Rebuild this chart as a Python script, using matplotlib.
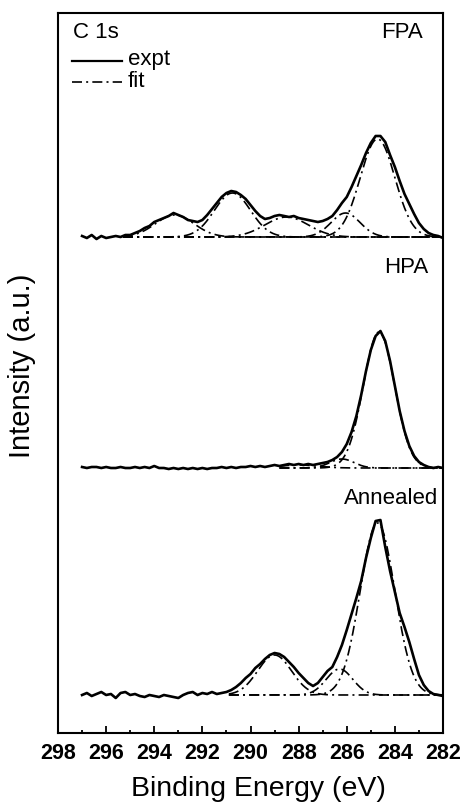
import numpy as np
import matplotlib
matplotlib.use("Agg")
import matplotlib.pyplot as plt
from matplotlib.lines import Line2D

plt.rcParams['font.family'] = ['Liberation Sans', 'DejaVu Sans']

# ---------------- data ----------------
energy = np.linspace(297.0, 282.0, 76)   # eV, 0.2 eV steps

fpa_expt = [1, -1, 2, -2, 1, -1, 0, 1, 0, 2,
            2, 4, 6, 9, 11, 15, 17, 19, 21, 24,
            22, 20, 17, 16, 15, 17, 22, 28, 34, 40,
            44, 46, 45, 42, 38, 32, 26, 21, 18, 19,
            21, 22, 21, 20, 21, 19, 18, 17, 16, 15,
            16, 18, 21, 27, 34, 40, 50, 61, 72, 84,
            94, 101, 101, 95, 82, 70, 56, 43, 33, 23,
            14, 8, 4, 2, 1, -1]

hpa_expt = [1, 0, 1, 1, 0, 1, 0, 0, 1, 0,
            0, 1, 0, 1, 0, 2, 0, 0, -1, 0,
            -1, 0, -1, 0, -1, 0, -1, 0, 0, 1,
            0, 1, 0, 1, 1, 2, 1, 2, 1, 2,
            3, 2, 3, 4, 3, 4, 3, 4, 3, 4,
            5, 6, 8, 11, 16, 24, 36, 52, 73, 97,
            118, 132, 137, 127, 107, 82, 57, 37, 22, 12,
            6, 3, 1, 0, 1, 0]

ann_expt = [0, 2, -1, 1, 3, 0, 1, -3, 2, 3,
            0, 1, -1, -2, 0, -1, -2, 0, -1, -2,
            -3, 0, 2, 3, 0, 2, 1, 3, 1, 2,
            3, 5, 8, 12, 17, 21, 27, 31, 36, 40,
            42, 41, 38, 33, 28, 22, 17, 12, 9, 12,
            18, 24, 28, 38, 50, 65, 81, 97, 114, 137,
            157, 174, 175, 148, 124, 103, 82, 68, 53, 36,
            20, 10, 4, 1, 0, -1]

# fit components: (centre eV, height, sigma eV)
fpa_fit = [(284.72, 98, 0.72), (286.05, 24, 0.60), (288.50, 20, 0.90),
           (290.75, 44, 0.75), (293.15, 22, 0.80)]
hpa_fit = [(284.66, 136, 0.65), (286.20, 9, 0.50), (288.00, 3, 0.80)]
ann_fit = [(284.72, 172, 0.72), (286.30, 26, 0.55), (289.00, 40, 0.70)]

# fit ranges (eV)
fpa_range = (295.3, 282.0)
hpa_range = (288.8, 282.0)
ann_range = (290.9, 282.0)

labels = ["FPA", "HPA", "Annealed"]
offsets = [496, 265, 38]

# ---------------- figure ----------------
fig = plt.figure(figsize=(4.64, 8.02), dpi=100)
ax = fig.add_axes([58/464, 1-733/802, 385/464, 720/802])

dash = (0, (6, 2.5, 1.2, 2.5))
spectra = [(fpa_expt, fpa_fit, fpa_range),
           (hpa_expt, hpa_fit, hpa_range),
           (ann_expt, ann_fit, ann_range)]

for (expt, comps, rng), off in zip(spectra, offsets):
    ax.plot(energy, np.asarray(expt) + off, color='black', lw=1.9, zorder=3)
    xf = np.linspace(rng[0], rng[1], 400)
    for c, h, s in comps:
        ax.plot(xf, h*np.exp(-(xf-c)**2/(2*s*s)) + off, color='black',
                lw=1.2, ls=dash, zorder=2)

ax.set_xlim(298, 282)
ax.set_ylim(0, 720)
ax.set_yticks([])
ax.set_xticks(np.arange(298, 281, -2))
ax.set_xticks(np.arange(297, 282, -2), minor=True)
ax.tick_params(axis='x', which='major', direction='in', length=5, width=1.3,
               pad=7, labelsize=15.5)
ax.tick_params(axis='x', which='minor', direction='in', length=2.5, width=1.3)
for lab in ax.get_xticklabels():
    lab.set_fontweight('bold')
for sp in ax.spines.values():
    sp.set_linewidth(1.5)

ax.set_xlabel("Binding Energy (eV)", fontsize=20.5)
ax.xaxis.set_label_coords(0.52, -0.06)
ax.xaxis.label.set_va('top')
ax.set_ylabel("Intensity (a.u.)", fontsize=21)
ax.yaxis.set_label_coords(-0.058, 0.51)

# annotations
ax.text(297.38, 695, "C 1s", fontsize=16, ha='left', va='baseline')
ax.text(282.83, 695, labels[0], fontsize=16, ha='right', va='baseline')
ax.text(282.62, 460, labels[1], fontsize=16, ha='right', va='baseline')
ax.text(282.2, 229, labels[2], fontsize=16, ha='right', va='baseline')

# legend drawn by hand
tr = ax.transAxes
ax.add_line(Line2D([0.036, 0.166], [0.9333, 0.9333], transform=tr,
                   color='black', lw=1.6))
ax.add_line(Line2D([0.036, 0.166], [0.9042, 0.9042], transform=tr,
                   color='black', lw=1.2, ls=dash))
ax.text(0.182, 0.9278, "expt", transform=tr, fontsize=16, va='baseline')
ax.text(0.182, 0.8972, "fit", transform=tr, fontsize=16, va='baseline')

fig.savefig("out.png", dpi=100)
